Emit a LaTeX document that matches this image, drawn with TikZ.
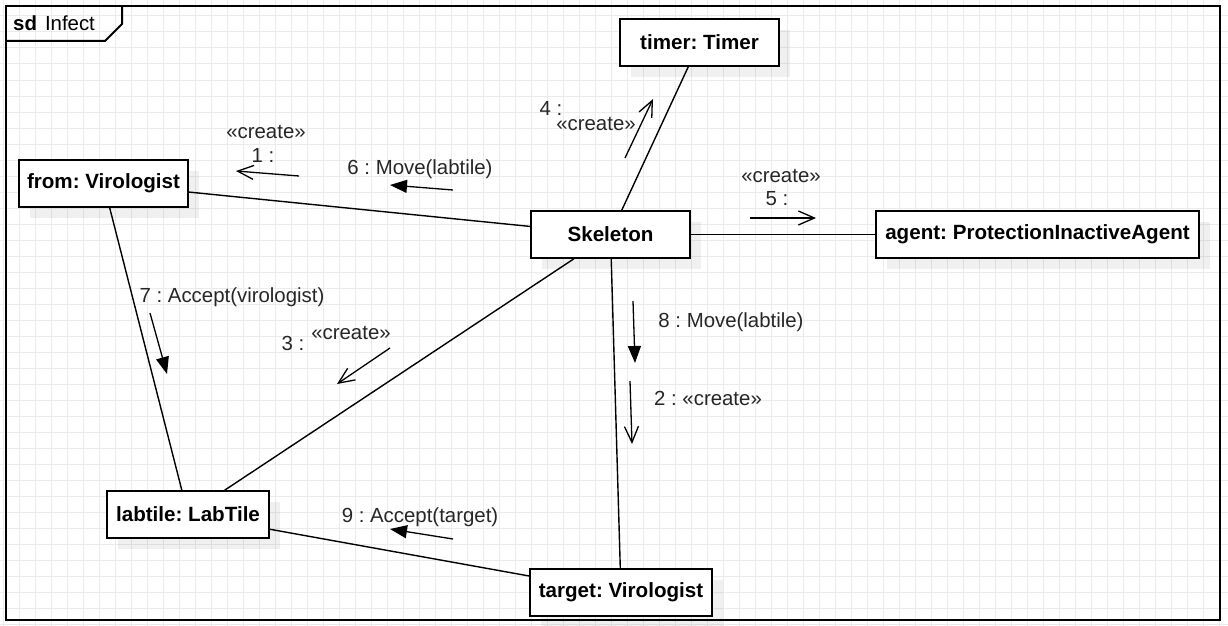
\documentclass[tikz,border=0pt]{standalone}
\usepackage{fontspec}
\setmainfont{Liberation Sans}
\usepackage{tikz}
\usetikzlibrary{shapes}
\usetikzlibrary{arrows.meta}
\usetikzlibrary{shadows}
\frenchspacing
\begin{document}
\begin{tikzpicture}[x=1pt,y=-1pt]
\tikzstyle{every node}=[font=\fontsize{20.4}{24}\selectfont]
\tikzstyle{gridline}=[draw=black!8,line width=1pt]
\tikzstyle{frame}=[draw=black,line width=2pt]
\tikzstyle{obj}=[draw,line width=1.6pt,fill=white,inner sep=0pt,minimum height=47pt,
font=\fontsize{20.6}{24}\selectfont\bfseries,
drop shadow={shadow xshift=11pt,shadow yshift=-11pt,fill=black,opacity=0.06}]
\tikzstyle{link}=[line width=1.4pt]
\tikzstyle{msg}=[inner sep=0pt,text=black!85]
\tikzstyle{createmsg}=[line width=1.3pt,-{Straight Barb[length=16pt,width=14pt]}]
\tikzstyle{callmsg}=[line width=1.3pt,-{Triangle[length=17pt,width=13pt]}]
\useasboundingbox (0,0) rectangle (1228,626);
\foreach \gx in {3,19,...,1219} \draw[gridline] (\gx,0) -- (\gx,626);
\foreach \gy in {0,16,...,624} \draw[gridline] (0,\gy) -- (1228,\gy);
\draw[frame] (6,6) rectangle (1220,620);
\draw[frame] (6,41) -- (105,41) -- (122,24) -- (122,6);
\node[anchor=west,inner sep=0pt] (title) at (13,23) {{\bfseries sd}\hspace{8pt}Infect};
\node[obj,minimum width=169pt] (from) at (103.5,183.5) {from: Virologist};
\node[obj,minimum width=159pt] (timer) at (699.5,42.5) {timer: Timer};
\node[obj,minimum width=159pt] (skel) at (610.5,234.5) {Skeleton};
\node[obj,minimum width=323pt] (agent) at (1037.5,234.5) {agent: ProtectionInactiveAgent};
\node[obj,minimum width=162pt] (labtile) at (188,514.5) {labtile: LabTile};
\node[obj,minimum width=182pt] (target) at (621,592.5) {target: Virologist};
\draw[link] (from) -- (skel);
\draw[link] (timer) -- (skel);
\draw[link] (skel) -- (agent);
\draw[link] (skel) -- (labtile);
\draw[link] (skel) -- (target);
\draw[link] (from) -- (labtile);
\draw[link] (labtile) -- (target);
\foreach \m/\sx/\sy/\ex/\ey/\tip in {m1/299/176/236/171/createmsg,m6/453/190/390/185/callmsg,
m4/625/158/653/99/createmsg,m5/750/218/816/218/createmsg,m7/150/313/167/374/callmsg,
m3/390/348/337/384/createmsg,m8/633/301/635/363/callmsg,m2/630/381/632/444/createmsg,
m9/453/539/390/529/callmsg}{
\coordinate (\m s) at (\sx,\sy);
\coordinate (\m e) at (\ex,\ey);
\draw[\tip] (\m s) -- (\m e);
}
\node[msg] (lab1c) at (266,132) {«create»};
\node[msg] (lab1n) at (263,155) {1 :};
\node[msg] (lab6) at (420,169) {6 : Move(labtile)};
\node[msg] (lab4n) at (551,108) {4 :};
\node[msg] (lab4c) at (596,124) {«create»};
\node[msg] (lab5c) at (781,176) {«create»};
\node[msg] (lab5n) at (777,199) {5 :};
\node[msg] (lab7) at (232,297) {7 : Accept(virologist)};
\node[msg] (lab3n) at (293,343) {3 :};
\node[msg] (lab3c) at (351,333) {«create»};
\node[msg] (lab8) at (731,322) {8 : Move(labtile)};
\node[msg] (lab2) at (708,398) {2 : «create»};
\node[msg] (lab9) at (420,517) {9 : Accept(target)};
\end{tikzpicture}
\end{document}
